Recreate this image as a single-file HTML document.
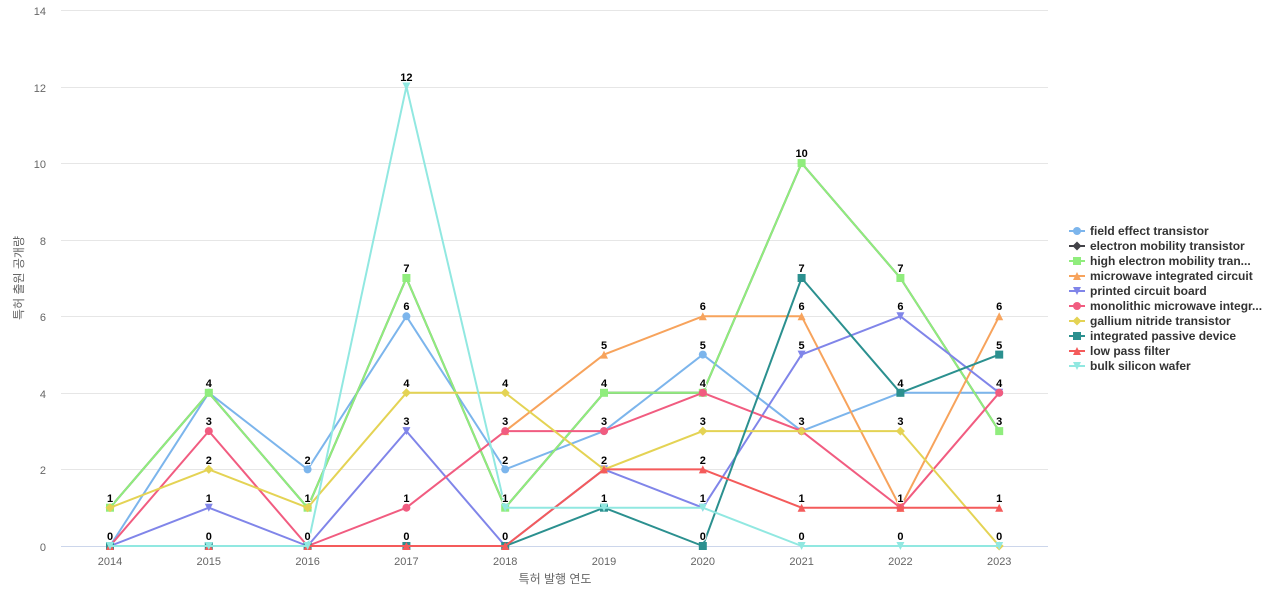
<!DOCTYPE html>
<html><head><meta charset="utf-8"><style>
html,body{margin:0;padding:0;background:#fff;}
svg{display:block;font-family:"Liberation Sans","Noto Sans CJK KR",sans-serif;}
.dl{font-size:11px;font-weight:bold;fill:#000;stroke:#fff;stroke-width:2px;paint-order:stroke;stroke-linejoin:round;text-anchor:middle;}
.ax{font-size:11px;fill:#666;}
.lg{font-size:12px;font-weight:bold;fill:#333;}
</style></head><body>
<svg width="1280" height="600" viewBox="0 0 1280 600" xmlns="http://www.w3.org/2000/svg">
<defs>
<circle id="mc" r="4"/>
<rect id="ms" x="-4" y="-4" width="8" height="8"/>
<path id="md" d="M0,-4.5 L4.5,0 L0,4.5 L-4.5,0Z"/>
<path id="mt" d="M0,-4 L4,4 L-4,4Z"/>
<path id="mv" d="M-4,-4 L4,-4 L0,4Z"/>
</defs>
<!-- grid -->
<g stroke="#e6e6e6" stroke-width="1">
<line x1="61" y1="10.5" x2="1048" y2="10.5"/>
<line x1="61" y1="87.5" x2="1048" y2="87.5"/>
<line x1="61" y1="163.5" x2="1048" y2="163.5"/>
<line x1="61" y1="240.5" x2="1048" y2="240.5"/>
<line x1="61" y1="316.5" x2="1048" y2="316.5"/>
<line x1="61" y1="393.5" x2="1048" y2="393.5"/>
<line x1="61" y1="469.5" x2="1048" y2="469.5"/>
</g>
<line x1="61" y1="546.5" x2="1048" y2="546.5" stroke="#ccd6eb" stroke-width="1"/>
<!-- y labels -->
<g class="ax" text-anchor="end">
<text x="46" y="15">14</text>
<text x="46" y="92">12</text>
<text x="46" y="168">10</text>
<text x="46" y="245">8</text>
<text x="46" y="321">6</text>
<text x="46" y="398">4</text>
<text x="46" y="474">2</text>
<text x="46" y="551">0</text>
</g>
<text class="ax" transform="translate(23,278) rotate(-90)" text-anchor="middle" style="font-size:12px">특허 출원 공개량</text>
<!-- x labels -->
<g class="ax" text-anchor="middle">
<text x="110" y="565">2014</text>
<text x="208.8" y="565">2015</text>
<text x="307.6" y="565">2016</text>
<text x="406.4" y="565">2017</text>
<text x="505.2" y="565">2018</text>
<text x="604" y="565">2019</text>
<text x="702.8" y="565">2020</text>
<text x="801.6" y="565">2021</text>
<text x="900.4" y="565">2022</text>
<text x="999.2" y="565">2023</text>
</g>
<text class="ax" x="555" y="583" text-anchor="middle" style="font-size:12px">특허 발행 연도</text>

<g fill="none" stroke-width="2" stroke-linejoin="round" stroke-linecap="round">
<!-- FET -->
<polyline stroke="#7cb5ec" points="110,546 208.8,392.8 307.6,469.4 406.4,316.3 505.2,469.4 604,431.1 702.8,354.6 801.6,431.1 900.4,392.8 999.2,392.8"/>
</g>
<g fill="#7cb5ec">
<use href="#mc" x="110" y="546"/><use href="#mc" x="208.8" y="392.8"/><use href="#mc" x="307.6" y="469.4"/><use href="#mc" x="406.4" y="316.3"/><use href="#mc" x="505.2" y="469.4"/><use href="#mc" x="604" y="431.1"/><use href="#mc" x="702.8" y="354.6"/><use href="#mc" x="801.6" y="431.1"/><use href="#mc" x="900.4" y="392.8"/><use href="#mc" x="999.2" y="392.8"/>
</g>
<!-- EMT dark -->
<polyline fill="none" stroke="#434348" stroke-width="2" stroke-linejoin="round" points="110,507.7 208.8,392.8 307.6,507.7 406.4,278 505.2,507.7 604,392.8 702.8,392.8 801.6,163.1 900.4,278 999.2,431.1"/>
<!-- HEMT -->
<polyline fill="none" stroke="#90ed7d" stroke-width="2" stroke-linejoin="round" points="110,507.7 208.8,392.8 307.6,507.7 406.4,278 505.2,507.7 604,392.8 702.8,392.8 801.6,163.1 900.4,278 999.2,431.1"/>
<g fill="#90ed7d">
<use href="#ms" x="110" y="507.7"/><use href="#ms" x="208.8" y="392.8"/><use href="#ms" x="307.6" y="507.7"/><use href="#ms" x="406.4" y="278"/><use href="#ms" x="505.2" y="507.7"/><use href="#ms" x="604" y="392.8"/><use href="#ms" x="702.8" y="392.8"/><use href="#ms" x="801.6" y="163.1"/><use href="#ms" x="900.4" y="278"/><use href="#ms" x="999.2" y="431.1"/>
</g>
<!-- Microwave -->
<polyline fill="none" stroke="#f7a35c" stroke-width="2" stroke-linejoin="round" points="505.2,431.1 604,354.6 702.8,316.3 801.6,316.3 900.4,507.7 999.2,316.3"/>
<g fill="#f7a35c">
<use href="#mt" x="505.2" y="431.1"/><use href="#mt" x="604" y="354.6"/><use href="#mt" x="702.8" y="316.3"/><use href="#mt" x="801.6" y="316.3"/><use href="#mt" x="900.4" y="507.7"/><use href="#mt" x="999.2" y="316.3"/>
</g>
<!-- PCB -->
<polyline fill="none" stroke="#8085e9" stroke-width="2" stroke-linejoin="round" points="110,546 208.8,507.7 307.6,546 406.4,431.1 505.2,546 604,469.4 702.8,507.7 801.6,354.6 900.4,316.3 999.2,392.8"/>
<g fill="#8085e9">
<use href="#mv" x="110" y="546"/><use href="#mv" x="208.8" y="507.7"/><use href="#mv" x="307.6" y="546"/><use href="#mv" x="406.4" y="431.1"/><use href="#mv" x="505.2" y="546"/><use href="#mv" x="604" y="469.4"/><use href="#mv" x="702.8" y="507.7"/><use href="#mv" x="801.6" y="354.6"/><use href="#mv" x="900.4" y="316.3"/><use href="#mv" x="999.2" y="392.8"/>
</g>
<!-- Mono -->
<polyline fill="none" stroke="#f15c80" stroke-width="2" stroke-linejoin="round" points="110,546 208.8,431.1 307.6,546 406.4,507.7 505.2,431.1 604,431.1 702.8,392.8 801.6,431.1 900.4,507.7 999.2,392.8"/>
<g fill="#f15c80">
<use href="#mc" x="110" y="546"/><use href="#mc" x="208.8" y="431.1"/><use href="#mc" x="307.6" y="546"/><use href="#mc" x="406.4" y="507.7"/><use href="#mc" x="505.2" y="431.1"/><use href="#mc" x="604" y="431.1"/><use href="#mc" x="702.8" y="392.8"/><use href="#mc" x="801.6" y="431.1"/><use href="#mc" x="900.4" y="507.7"/><use href="#mc" x="999.2" y="392.8"/>
</g>
<!-- Gallium -->
<polyline fill="none" stroke="#e4d354" stroke-width="2" stroke-linejoin="round" points="110,507.7 208.8,469.4 307.6,507.7 406.4,392.8 505.2,392.8 604,469.4 702.8,431.1 801.6,431.1 900.4,431.1 999.2,546"/>
<g fill="#e4d354">
<use href="#md" x="110" y="507.7"/><use href="#md" x="208.8" y="469.4"/><use href="#md" x="307.6" y="507.7"/><use href="#md" x="406.4" y="392.8"/><use href="#md" x="505.2" y="392.8"/><use href="#md" x="604" y="469.4"/><use href="#md" x="702.8" y="431.1"/><use href="#md" x="801.6" y="431.1"/><use href="#md" x="900.4" y="431.1"/><use href="#md" x="999.2" y="546"/>
</g>
<!-- IPD -->
<polyline fill="none" stroke="#2b908f" stroke-width="2" stroke-linejoin="round" points="110,546 208.8,546 307.6,546 406.4,546 505.2,546 604,507.7 702.8,546 801.6,278 900.4,392.8 999.2,354.6"/>
<g fill="#2b908f">
<use href="#ms" x="110" y="546"/><use href="#ms" x="208.8" y="546"/><use href="#ms" x="307.6" y="546"/><use href="#ms" x="406.4" y="546"/><use href="#ms" x="505.2" y="546"/><use href="#ms" x="604" y="507.7"/><use href="#ms" x="702.8" y="546"/><use href="#ms" x="801.6" y="278"/><use href="#ms" x="900.4" y="392.8"/><use href="#ms" x="999.2" y="354.6"/>
</g>
<!-- LPF -->
<polyline fill="none" stroke="#f45b5b" stroke-width="2" stroke-linejoin="round" points="110,546 208.8,546 307.6,546 406.4,546 505.2,546 604,469.4 702.8,469.4 801.6,507.7 900.4,507.7 999.2,507.7"/>
<g fill="#f45b5b">
<use href="#mt" x="110" y="546"/><use href="#mt" x="208.8" y="546"/><use href="#mt" x="307.6" y="546"/><use href="#mt" x="406.4" y="546"/><use href="#mt" x="505.2" y="546"/><use href="#mt" x="604" y="469.4"/><use href="#mt" x="702.8" y="469.4"/><use href="#mt" x="801.6" y="507.7"/><use href="#mt" x="900.4" y="507.7"/><use href="#mt" x="999.2" y="507.7"/>
</g>
<!-- Bulk -->
<polyline fill="none" stroke="#91e8e1" stroke-width="2" stroke-linejoin="round" points="110,546 208.8,546 307.6,546 406.4,86.5 505.2,507.7 604,507.7 702.8,507.7 801.6,546 900.4,546 999.2,546"/>
<g fill="#91e8e1">
<use href="#mv" x="110" y="546"/><use href="#mv" x="208.8" y="546"/><use href="#mv" x="307.6" y="546"/><use href="#mv" x="406.4" y="86.5"/><use href="#mv" x="505.2" y="507.7"/><use href="#mv" x="604" y="507.7"/><use href="#mv" x="702.8" y="507.7"/><use href="#mv" x="801.6" y="546"/><use href="#mv" x="900.4" y="546"/><use href="#mv" x="999.2" y="546"/>
</g>

<!-- data labels -->
<g class="dl">
<text x="110" y="502">1</text><text x="110" y="540">0</text>
<text x="208.8" y="387">4</text><text x="208.8" y="425">3</text><text x="208.8" y="464">2</text><text x="208.8" y="502">1</text><text x="208.8" y="540">0</text>
<text x="307.6" y="464">2</text><text x="307.6" y="502">1</text><text x="307.6" y="540">0</text>
<text x="406.4" y="81">12</text><text x="406.4" y="272">7</text><text x="406.4" y="310">6</text><text x="406.4" y="387">4</text><text x="406.4" y="425">3</text><text x="406.4" y="502">1</text><text x="406.4" y="540">0</text>
<text x="505.2" y="387">4</text><text x="505.2" y="425">3</text><text x="505.2" y="464">2</text><text x="505.2" y="502">1</text><text x="505.2" y="540">0</text>
<text x="604" y="349">5</text><text x="604" y="387">4</text><text x="604" y="425">3</text><text x="604" y="464">2</text><text x="604" y="502">1</text>
<text x="702.8" y="310">6</text><text x="702.8" y="349">5</text><text x="702.8" y="387">4</text><text x="702.8" y="425">3</text><text x="702.8" y="464">2</text><text x="702.8" y="502">1</text><text x="702.8" y="540">0</text>
<text x="801.6" y="157">10</text><text x="801.6" y="272">7</text><text x="801.6" y="310">6</text><text x="801.6" y="349">5</text><text x="801.6" y="425">3</text><text x="801.6" y="502">1</text><text x="801.6" y="540">0</text>
<text x="900.4" y="272">7</text><text x="900.4" y="310">6</text><text x="900.4" y="387">4</text><text x="900.4" y="425">3</text><text x="900.4" y="502">1</text><text x="900.4" y="540">0</text>
<text x="999.2" y="310">6</text><text x="999.2" y="349">5</text><text x="999.2" y="387">4</text><text x="999.2" y="425">3</text><text x="999.2" y="502">1</text><text x="999.2" y="540">0</text>
</g>

<!-- legend -->
<g stroke-width="2">
<line x1="1069" y1="231" x2="1085" y2="231" stroke="#7cb5ec"/>
<line x1="1069" y1="246" x2="1085" y2="246" stroke="#434348"/>
<line x1="1069" y1="261" x2="1085" y2="261" stroke="#90ed7d"/>
<line x1="1069" y1="276" x2="1085" y2="276" stroke="#f7a35c"/>
<line x1="1069" y1="291" x2="1085" y2="291" stroke="#8085e9"/>
<line x1="1069" y1="306" x2="1085" y2="306" stroke="#f15c80"/>
<line x1="1069" y1="321" x2="1085" y2="321" stroke="#e4d354"/>
<line x1="1069" y1="336" x2="1085" y2="336" stroke="#2b908f"/>
<line x1="1069" y1="351" x2="1085" y2="351" stroke="#f45b5b"/>
<line x1="1069" y1="366" x2="1085" y2="366" stroke="#91e8e1"/>
</g>
<use href="#mc" x="1077" y="231" fill="#7cb5ec"/>
<use href="#md" x="1077" y="246" fill="#434348"/>
<use href="#ms" x="1077" y="261" fill="#90ed7d"/>
<use href="#mt" x="1077" y="276" fill="#f7a35c"/>
<use href="#mv" x="1077" y="291" fill="#8085e9"/>
<use href="#mc" x="1077" y="306" fill="#f15c80"/>
<use href="#md" x="1077" y="321" fill="#e4d354"/>
<use href="#ms" x="1077" y="336" fill="#2b908f"/>
<use href="#mt" x="1077" y="351" fill="#f45b5b"/>
<use href="#mv" x="1077" y="366" fill="#91e8e1"/>
<g class="lg">
<text x="1090" y="235">field effect transistor</text>
<text x="1090" y="250">electron mobility transistor</text>
<text x="1090" y="265">high electron mobility tran...</text>
<text x="1090" y="280">microwave integrated circuit</text>
<text x="1090" y="295">printed circuit board</text>
<text x="1090" y="310">monolithic microwave integr...</text>
<text x="1090" y="325">gallium nitride transistor</text>
<text x="1090" y="340">integrated passive device</text>
<text x="1090" y="355">low pass filter</text>
<text x="1090" y="370">bulk silicon wafer</text>
</g>
</svg>
</body></html>
